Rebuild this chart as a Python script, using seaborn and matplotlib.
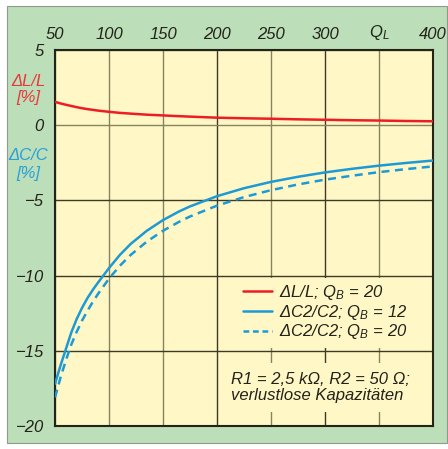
import matplotlib
matplotlib.use("Agg")
import matplotlib.pyplot as plt
import pandas as pd
import seaborn as sns
from matplotlib.patches import Rectangle
from matplotlib.lines import Line2D

# Loaded quality Q_L (x axis) and relative detuning in percent
q_l = [50, 55, 60, 65, 70, 75, 80, 85, 90, 100, 110, 120, 135, 150, 165, 175, 200,
       225, 250, 275, 300, 325, 350, 375, 400]
dl_l_qb20 = [1.55, 1.45, 1.36, 1.28, 1.20, 1.13, 1.07, 1.02, 0.97, 0.89, 0.82, 0.77, 0.70,
             0.65, 0.60, 0.57, 0.50, 0.46, 0.43, 0.39, 0.36, 0.33, 0.31, 0.28, 0.26]
dc2_qb12 = [-17.2, -16.0, -14.9, -13.8, -12.9, -12.15, -11.5, -10.95, -10.45, -9.5,
            -8.63, -7.9, -7.02, -6.31, -5.73, -5.4, -4.72, -4.19, -3.77, -3.43, -3.14,
            -2.9, -2.69, -2.51, -2.35]
dc2_qb20 = [-18.1, -16.8, -15.65, -14.6, -13.75, -13.0, -12.35, -11.75, -11.2, -10.2,
            -9.35, -8.63, -7.74, -7.02, -6.42, -6.07, -5.35, -4.78, -4.32, -3.94, -3.62,
            -3.36, -3.12, -2.92, -2.74]

x_ticks = [50, 100, 150, 200, 250, 300, 350, 400]
x_tick_labels = ["50", "100", "150", "200", "250", "300", "Q$_L$", "400"]
y_ticks = [5, 0, -5, -10, -15, -20]
y_tick_labels = ["5", "0", "\u22125", "\u221210", "\u221215", "\u221220"]

legend_labels = ["\u0394L/L; Q$_B$ = 20",
                 "\u0394C2/C2; Q$_B$ = 12",
                 "\u0394C2/C2; Q$_B$ = 20"]
note_text = "R1 = 2,5 k\u03a9, R2 = 50 \u03a9;\nverlustlose Kapazit\u00e4ten"

RED = "#ee1c24"
BLUE = "#1b9ad6"
RED_TXT = "#e8383d"
BLUE_TXT = "#2a9fd8"
GREEN = "#bcdeb8"
YELLOW = "#fff7c6"
GRID_DARK = "#3d3b25"
GRID_LIGHT = "#86835e"
INK = "#23231a"

sns.set_theme(style="white")
plt.rcParams["font.family"] = ["Liberation Sans", "DejaVu Sans"]
plt.rcParams["font.style"] = "italic"
plt.rcParams["mathtext.fontset"] = "custom"
plt.rcParams["mathtext.it"] = "Liberation Sans:italic"
plt.rcParams["mathtext.rm"] = "Liberation Sans:italic"
plt.rcParams["mathtext.default"] = "it"

df = pd.DataFrame({"Q": q_l, "dL": dl_l_qb20, "dC12": dc2_qb12, "dC20": dc2_qb20})

fig = plt.figure(figsize=(4.48, 4.49), dpi=100, facecolor="white")
# green panel behind the chart
fig.patches.append(Rectangle((7 / 448, 6 / 449), 440 / 448, 437 / 449,
                             transform=fig.transFigure, facecolor=GREEN,
                             edgecolor="#8f9a8c", linewidth=0.8, zorder=-10))

ax = fig.add_axes([55 / 448, 23 / 449, 378 / 448, 376 / 449])
ax.set_zorder(1)
ax.set_facecolor(YELLOW)
ax.set_axisbelow(True)

lw = 1.8
dash = (0, (3.2, 2.2))
sns.lineplot(data=df, x="Q", y="dL", ax=ax, color=RED, linewidth=lw, zorder=3)
sns.lineplot(data=df, x="Q", y="dC12", ax=ax, color=BLUE, linewidth=lw, zorder=3)
sns.lineplot(data=df, x="Q", y="dC20", ax=ax, color=BLUE, linewidth=lw, zorder=3,
             linestyle=dash)

ax.set_xlim(50, 400)
ax.set_ylim(-20, 5)
ax.set_xlabel("")
ax.set_ylabel("")

ax.xaxis.tick_top()
ax.set_xticks(x_ticks)
ax.set_xticklabels(x_tick_labels)
ax.set_yticks(y_ticks)
ax.set_yticklabels(y_tick_labels)
ax.tick_params(axis="x", length=0, pad=5.5, labelsize=12, labelcolor=INK)
ax.tick_params(axis="y", length=0, pad=8, labelsize=12, labelcolor=INK)
for lab in ax.get_xticklabels() + ax.get_yticklabels():
    lab.set_fontstyle("italic")

# grid: every other line a touch darker
ax.grid(True, linewidth=1.0)
dark_x = {200, 300}
dark_y = {-5, -10, -15}
for val, gl in zip(x_ticks, ax.xaxis.get_gridlines()):
    gl.set_color(GRID_DARK if val in dark_x else GRID_LIGHT)
for val, gl in zip(y_ticks, ax.yaxis.get_gridlines()):
    gl.set_color(GRID_DARK if val in dark_y else GRID_LIGHT)

for sp in ax.spines.values():
    sp.set_visible(True)
    sp.set_color(INK)
    sp.set_linewidth(1.5)

# panels that mask the grid under the legend and the note
ax.add_patch(Rectangle((0.468, 0.2074), 0.532, 0.1862, transform=ax.transAxes,
                       facecolor=YELLOW, edgecolor="none", zorder=1))
ax.add_patch(Rectangle((0.4577, 0.037), 0.5423, 0.1306, transform=ax.transAxes,
                       facecolor=YELLOW, edgecolor="none", zorder=1))

handles = [Line2D([], [], color=RED, linewidth=lw),
           Line2D([], [], color=BLUE, linewidth=lw),
           Line2D([], [], color=BLUE, linewidth=lw, linestyle=(0, (2.3, 1.5)))]
leg = ax.legend(handles, legend_labels, loc="center left",
                bbox_to_anchor=(0.498, 0.303), frameon=False, fontsize=12,
                handlelength=1.7, handletextpad=0.45, labelspacing=0.05,
                borderpad=0.0, borderaxespad=0.0)
for t in leg.get_texts():
    t.set_color(INK)
    t.set_fontstyle("italic")
leg.set_zorder(5)

ax.text(0.4656, 0.1024, note_text, transform=ax.transAxes, ha="left", va="center",
        fontsize=12, fontstyle="italic", color=INK, linespacing=1.05, zorder=5)

# axis captions in the left margin
ax.text(-0.0714, 2.93, "\u0394L/L", transform=ax.get_yaxis_transform(), ha="center",
        va="center", fontsize=12, fontstyle="italic", color=RED_TXT)
ax.text(-0.0714, 1.87, "[%]", transform=ax.get_yaxis_transform(), ha="center",
        va="center", fontsize=12, fontstyle="italic", color=RED_TXT)
ax.text(-0.0714, -2.0, "\u0394C/C", transform=ax.get_yaxis_transform(), ha="center",
        va="center", fontsize=12, fontstyle="italic", color=BLUE_TXT)
ax.text(-0.0714, -3.2, "[%]", transform=ax.get_yaxis_transform(), ha="center",
        va="center", fontsize=12, fontstyle="italic", color=BLUE_TXT)

fig.savefig("out.png", dpi=100, facecolor="white")
